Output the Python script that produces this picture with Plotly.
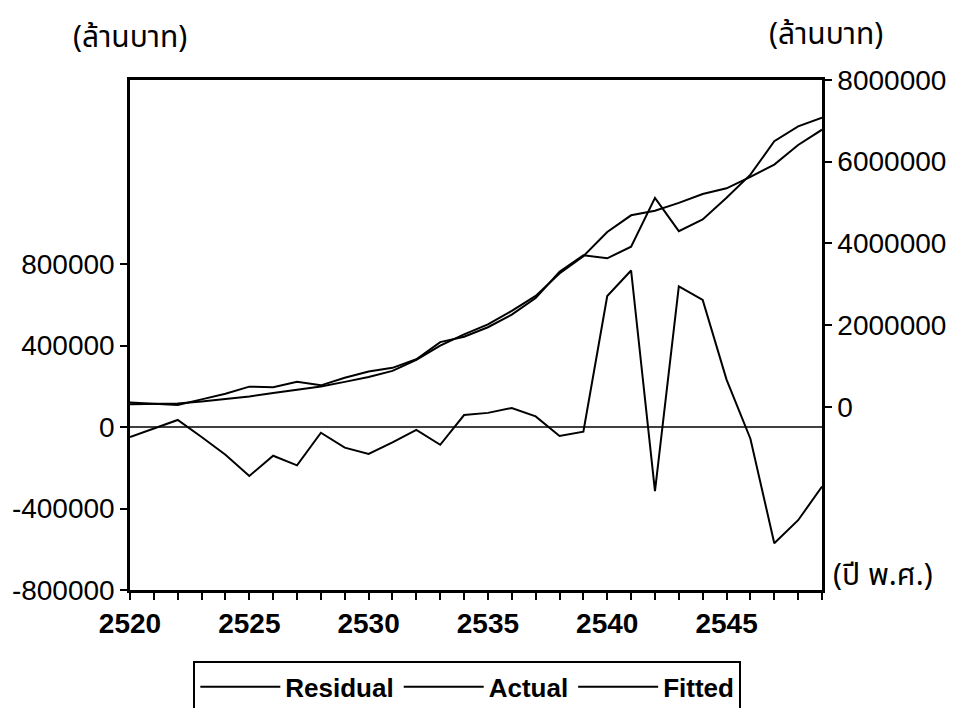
import plotly.graph_objects as go

years = list(range(2520, 2550))

residual = [-48700, -8000, 34800, -48700, -135600, -240000, -140900, -187800, -27800, -100900,
            -132200, -74800, -13900, -87000, 59100, 69600, 93900, 52200, -43500, -22600,
            643500, 768700, -314800, 690400, 624300, 233000, -57400, -570400, -457400, -292200]

actual = [61000, 61000, 78000, 130000, 183000, 252000, 339000, 426000, 496000, 609000,
          730000, 878000, 1148000, 1496000, 1774000, 2017000, 2348000, 2713000, 3261000, 3687000,
          4278000, 4687000, 4800000, 4991000, 5209000, 5348000, 5626000, 5930000, 6409000, 6783000]

fitted = [105000, 70000, 45000, 180000, 320000, 492000, 480000, 614000, 524000, 710000,
          862000, 953000, 1162000, 1583000, 1715000, 1947000, 2254000, 2661000, 3305000, 3710000,
          3635000, 3918000, 5115000, 4300000, 4585000, 5115000, 5683000, 6500000, 6866000, 7075000]

left_ticks = [-800000, -400000, 0, 400000, 800000]
right_ticks = [0, 2000000, 4000000, 6000000, 8000000]
x_ticks = [2520, 2525, 2530, 2535, 2540, 2545]

FONT = "Liberation Sans, Arial, sans-serif"
THAI = "Noto Sans Thai, Loma, Garuda, Tlwg Typo, Liberation Sans, sans-serif"

fig = go.Figure()
fig.add_trace(go.Scatter(x=years, y=residual, name="Residual", mode="lines",
                         line=dict(color="black", width=2), yaxis="y"))
fig.add_trace(go.Scatter(x=years, y=actual, name="Actual", mode="lines",
                         line=dict(color="black", width=2), yaxis="y2"))
fig.add_trace(go.Scatter(x=years, y=fitted, name="Fitted", mode="lines",
                         line=dict(color="black", width=2), yaxis="y2"))

fig.add_shape(type="line", xref="paper", x0=0, x1=1, yref="y", y0=0, y1=0,
              line=dict(color="black", width=1.5))

fig.update_layout(
    width=949, height=700,
    paper_bgcolor="white", plot_bgcolor="white",
    margin=dict(l=122, r=135, t=72, b=118, autoexpand=False),
    font=dict(family=FONT, size=28, color="black"),
    xaxis=dict(range=[2520, 2549], tickvals=x_ticks, ticks="outside", ticklen=7,
               tickwidth=2, tickcolor="black", showline=True, linewidth=2.5,
               linecolor="black", mirror=True, showgrid=False, zeroline=False,
               automargin=False,
               tickfont=dict(family=FONT, size=28, weight="bold"),
               minor=dict(dtick=1, ticks="outside", ticklen=7, tickwidth=1.5,
                          tickcolor="black", showgrid=False)),
    yaxis=dict(range=[-800000, 1704000], tickvals=left_ticks,
               ticktext=[str(v) for v in left_ticks], ticks="outside", ticklen=7,
               tickwidth=2, tickcolor="black", showline=True, linewidth=2.5,
               linecolor="black", showgrid=False, zeroline=False, automargin=False,
               tickfont=dict(family=FONT, size=28)),
    yaxis2=dict(range=[-4487000, 8000000], tickvals=right_ticks,
                ticktext=[str(v) for v in right_ticks], overlaying="y", side="right",
                ticks="outside", ticklen=7, tickwidth=2, tickcolor="black",
                showline=True, linewidth=2.5, linecolor="black", showgrid=False,
                zeroline=False, automargin=False, tickfont=dict(family=FONT, size=28)),
    showlegend=True,
    legend=dict(orientation="h", x=0.0915, xanchor="left", y=-0.14, yanchor="top",
                bordercolor="black", borderwidth=2, bgcolor="white",
                font=dict(family=FONT, size=26, weight="bold"),
                itemwidth=80, traceorder="normal"),
)

fig.add_annotation(text="(ล้านบาท)", xref="paper", yref="paper", x=0.0, y=1.082,
                   xanchor="center", yanchor="middle", showarrow=False,
                   font=dict(family=THAI, size=30, color="black"))
fig.add_annotation(text="(ล้านบาท)", xref="paper", yref="paper", x=1.006, y=1.088,
                   xanchor="center", yanchor="middle", showarrow=False,
                   font=dict(family=THAI, size=30, color="black"))
fig.add_annotation(text="(ปี พ.ศ.)", xref="paper", yref="paper", x=1.088, y=0.027,
                   xanchor="center", yanchor="middle", showarrow=False,
                   font=dict(family=THAI, size=30, color="black"))

fig.write_html("out.html")
